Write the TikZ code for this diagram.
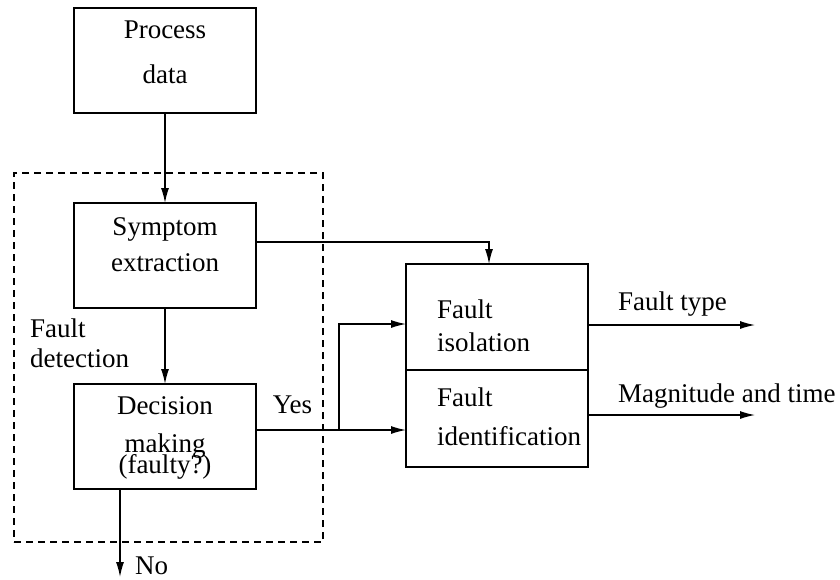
\documentclass[tikz,border=0pt]{standalone}
\usepackage{fontspec}
\setmainfont{Liberation Serif}
\usetikzlibrary{arrows.meta, positioning}
\tikzstyle{blk}   = [rectangle, draw, line width=1.3pt, minimum width=182pt,
minimum height=105pt, inner sep=0pt, outer sep=0pt]
\tikzstyle{lbl}   = [inner sep=0pt]
\tikzstyle{txtc}  = [lbl, align=center]
\tikzstyle{txtl}  = [lbl, align=left, anchor=west]
\tikzstyle{line}  = [line width=1.3pt]
\tikzstyle{arrow} = [-{Latex[length=15pt,width=8pt]}, line width=1.3pt]

\begin{document}
\begin{tikzpicture}[x=1pt, y=-1pt, font=\fontsize{27}{32}\selectfont]
      \useasboundingbox (0,0) rectangle (840,579);
      \node(fdbox) [draw, line width=1.3pt, dash pattern=on 7pt off 5pt,
        minimum width=309pt, minimum height=369pt, inner sep=0pt] at (168.5,357.5) {};

      \node(proc)  [blk] at (165,60.5)  {};
      \node(sym)   [blk] at (165,255.5) {};
      \node(dec)   [blk] at (165,436.5) {};
      \node(iso)   [blk, minimum height=106pt] at (497,317) {};
      \node(ident) [blk, minimum height=97pt, below=0pt of iso] {};

      \node(proct)  [txtc] at ([yshift=8pt]proc.center)   {Process\\[13pt]data};
      \node(symt)   [txtc] at ([yshift=10.5pt]sym.center) {Symptom\\[4pt]extraction};
      \node(dect)   [txtc] at ([yshift=-1pt]dec.center)   {Decision\\[6pt]making\\[-11pt](faulty?)};
      \node(isot)   [txtl] at ([xshift=31pt, yshift=-8.5pt]iso.west)  {Fault\\[1pt]isolation};
      \node(identt) [txtl] at ([xshift=31pt, yshift=1.5pt]ident.west) {Fault\\[7pt]identification};

      \node(fdlbl) [lbl, anchor=north west, align=left] at (30,319) {Fault\\[-2pt]detection};
      \node(yes)   [lbl, anchor=base] at (292.5,413) {Yes};
      \node(no)    [lbl, anchor=base west] at (135,574) {No};
      \node(ftype) [lbl, anchor=base west] at (618,310) {Fault type};
      \node(magt)  [lbl, anchor=base west] at (618,402) {Magnitude and time};

      \coordinate (jn)     at (339,430);
      \coordinate (noend)  at (120,577);
      \coordinate (ftend)  at (755,325);
      \coordinate (magend) at (755,415);

      \draw [arrow] (proc) -- (sym);
      \draw [arrow] (sym)  -- (dec);
      \draw [arrow] ([yshift=13.5pt]sym.east) -| ([xshift=-8pt]iso.north);
      \draw [line]  (dec.east |- jn) -- (jn);
      \draw [arrow] (jn) -- (jn -| ident.west);
      \draw [arrow] (jn) |- ([yshift=-7pt]iso.west);
      \draw [arrow] (dec.south -| noend) -- (noend);
      \draw [arrow] (iso.east |- ftend) -- (ftend);
      \draw [arrow] (ident.east |- magend) -- (magend);
    \end{tikzpicture}
\end{document}
